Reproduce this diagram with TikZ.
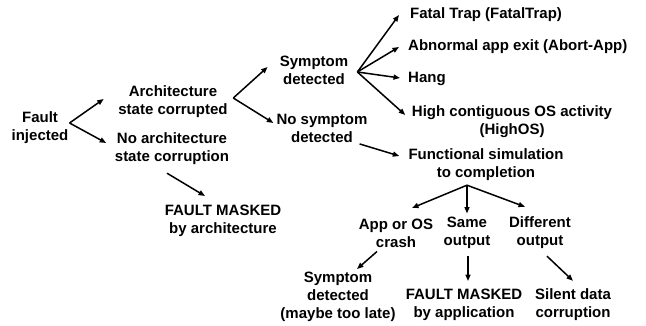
\documentclass[tikz,border=0pt]{standalone}
\usepackage{fontspec}
\setmainfont{Liberation Sans}
\usetikzlibrary{arrows.meta}

\begin{document}
\begin{tikzpicture}[x = 1pt, y = -1pt,
  txt/.style = {align = center, inner sep = 1pt, font = \fontsize{15}{18}\selectfont\bfseries},
  arr/.style = {line width = 1.5pt, -{Triangle[length = 6.5pt, width = 5pt]}}]
\useasboundingbox (0,0) rectangle (646,326);

\node[txt](F) at (40,128) {Fault\\injected};
\node[txt](AC) at (173,102) {Architecture\\state corrupted};
\node[txt](NAC) at (172,149) {No architecture\\state corruption};
\node[txt](FMA) at (223,221) {FAULT MASKED\\by architecture};
\node[txt](SD) at (314,70) {Symptom\\detected};
\node[txt](NSD) at (322,128) {No symptom\\detected};
\node[txt, anchor = west](FT) at (409,15) {Fatal Trap (FatalTrap)};
\node[txt, anchor = west](AA) at (407,47) {Abnormal app exit (Abort-App)};
\node[txt, anchor = west](HG) at (407,79) {Hang};
\node[txt](HOS) at (512,122) {High contiguous OS activity\\(HighOS)};
\node[txt](FS) at (486,165) {Functional simulation\\to completion};
\node[txt](CR) at (396,233) {App or OS\\crash};
\node[txt](SO) at (467,233) {Same\\output};
\node[txt](DO) at (540,233) {Different\\output};
\node[txt](SDL) at (338,297) {Symptom\\detected\\(maybe too late)};
\node[txt](FMP) at (464,305) {FAULT MASKED\\by application};
\node[txt](SDC) at (573,305) {Silent data\\corruption};

\path [arr] ([shift={(0,-5)}]F.east) edge ([shift={(-13.5,-3)}]AC.west);
\path [arr] ([shift={(0,-5)}]F.east) edge ([shift={(-7.5,-6)}]NAC.west);
\path [arr] ([shift={(-5,7)}]NAC.south) edge ([shift={(-18,-8)}]FMA.north);
\path [arr] ([shift={(4.5,-4)}]AC.east) edge ([shift={(-11,-3)}]SD.west);
\path [arr] ([shift={(4.5,-4)}]AC.east) edge ([shift={(-2,-5)}]NSD.west);
\path [arr] ([shift={(8,2)}]SD.east) edge ([shift={(-10,0)}]FT.west);
\path [arr] ([shift={(8,2)}]SD.east) edge ([shift={(-8,0)}]AA.west);
\path [arr] ([shift={(8,2)}]SD.east) edge ([shift={(-7,-1)}]HG.west);
\path [arr] ([shift={(8,2)}]SD.east) edge ([shift={(-5.5,-7)}]HOS.west);
\path [arr] ([shift={(-9,0.5)}]NSD.south east) edge ([shift={(-8,-9)}]FS.west);
\path [arr] ([shift={(-19,3)}]FS.south) edge ([shift={(16,-9.5)}]CR.north);
\path [arr] ([shift={(-19,3)}]FS.south) edge ([shift={(0,-2.5)}]SO.north);
\path [arr] ([shift={(-19,3)}]FS.south) edge ([shift={(-15,-9)}]DO.north);
\path [arr] ([shift={(-19,3)}]CR.south) edge ([shift={(19,-2)}]SDL.north);
\path [arr] ([shift={(1,6)}]SO.south) edge ([shift={(4,-7)}]FMP.north);
\path [arr] ([shift={(7,6)}]DO.south) edge ([shift={(0,-7)}]SDC.north);
\end{tikzpicture}
\end{document}
